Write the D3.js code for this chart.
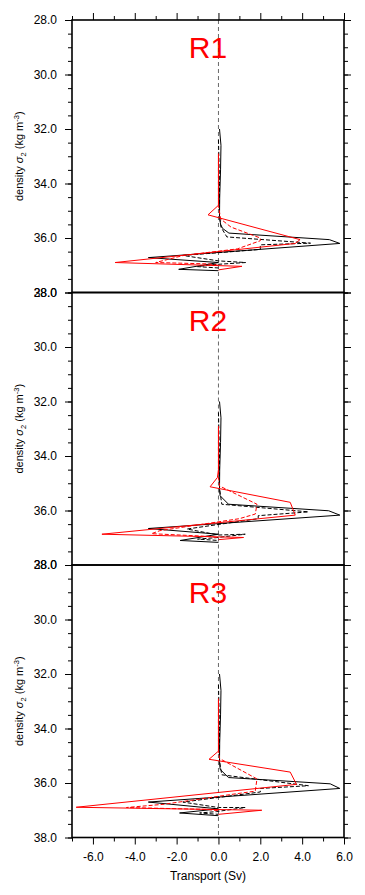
<!DOCTYPE html>
<meta charset="utf-8">
<head>
<style>
  body { margin: 0; background: #fff; }
  svg text { font-family: "Liberation Sans", Arial, sans-serif; }
</style>
</head>
<body>
<script src="https://d3js.org/d3.v7.min.js"></script>
<script>
// panel names
var panels = ["R1", "R2", "R3"];

// tick values
var xMajor = [-6, -4, -2, 0, 2, 4, 6];
var xMinor = [-7, -5, -3, -1, 1, 3, 5];
var yMajor = [28, 30, 32, 34, 36, 38];
var yMinor = d3.range(28, 38.01, 0.5);

// series: [transport (Sv), sigma2]
var r1BlackSolid = [[0.05,32.0],[0.12,32.6],[0.1,33.5],[0.06,34.5],[0.05,35.2],[0.1,35.5],[0.2,35.65],[0.5,35.82],[5.3,36.06],[5.8,36.2],[-3.35,36.72],[0.0,36.9],[-1.9,37.15],[0.0,37.2]];
var r1BlackDash  = [[0.0,32.4],[0.05,34.0],[0.05,35.2],[0.12,35.6],[0.4,35.96],[4.4,36.19],[2.0,36.25],[2.0,36.42],[-1.7,36.64],[0.0,36.84],[1.3,36.9],[-0.3,36.98],[-1.0,37.05],[0.0,37.1]];
var r1RedSolid   = [[0.0,32.9],[0.0,34.5],[0.0,34.8],[-0.5,35.15],[3.9,36.06],[3.67,36.2],[-4.94,36.9],[1.12,37.04],[0.0,37.17]];
var r1RedDash    = [[0.0,33.0],[0.0,34.8],[0.1,35.3],[0.6,35.6],[2.0,36.0],[2.0,36.1],[0.9,36.4],[-1.67,36.64],[-3.0,36.9],[-0.5,36.95],[0.0,37.0]];

var r2BlackSolid = [[0.05,32.0],[0.12,32.6],[0.1,33.5],[0.06,34.5],[0.05,35.2],[0.08,35.46],[0.48,35.77],[5.27,36.01],[5.8,36.17],[-3.35,36.66],[0.0,36.87],[-1.83,37.1],[0.0,37.17]];
var r2BlackDash  = [[0.0,32.4],[0.05,34.0],[0.05,35.2],[0.16,35.77],[4.3,36.05],[1.9,36.19],[1.9,36.3],[-1.5,36.68],[0.0,36.9],[1.28,36.87],[-0.15,37.0],[-1.0,37.05],[0.0,37.1]];
var r2RedSolid   = [[0.0,32.9],[0.0,34.5],[-0.05,34.79],[-0.4,35.13],[3.43,35.7],[3.67,36.17],[-5.57,36.87],[1.2,36.99],[0.0,37.07]];
var r2RedDash    = [[0.0,33.0],[0.0,34.8],[0.05,35.1],[1.84,35.77],[1.76,36.13],[1.0,36.3],[-2.8,36.74],[-3.2,36.85],[-0.5,36.95],[0.0,37.0]];

var r3BlackSolid = [[0.05,32.0],[0.12,32.6],[0.1,33.5],[0.06,34.5],[0.05,35.2],[0.08,35.5],[0.48,35.8],[5.34,36.03],[5.8,36.2],[-3.35,36.7],[0.0,36.95],[-1.86,37.1],[0.0,37.2]];
var r3BlackDash  = [[0.0,32.4],[0.05,34.0],[0.05,35.2],[0.16,35.7],[4.3,36.1],[2.0,36.2],[2.0,36.33],[-1.7,36.7],[0.0,36.9],[1.28,36.9],[-0.1,37.05],[-0.9,37.1],[0.0,37.15]];
var r3RedSolid   = [[0.0,32.9],[0.0,34.5],[0.0,34.83],[-0.45,35.13],[3.43,35.6],[3.73,36.05],[-6.8,36.89],[2.07,37.0],[0.0,37.15]];
var r3RedDash    = [[0.0,33.0],[0.0,34.8],[0.05,35.1],[1.84,35.85],[1.76,36.3],[0.8,36.4],[-2.6,36.78],[-4.4,36.9],[-0.5,36.97],[0.0,37.02]];

var seriesByPanel = [
  [r1BlackSolid, r1BlackDash, r1RedSolid, r1RedDash],
  [r2BlackSolid, r2BlackDash, r2RedSolid, r2RedDash],
  [r3BlackSolid, r3BlackDash, r3RedSolid, r3RedDash]
];
var styles = [
  {color: "#000", dash: null},
  {color: "#000", dash: "4,2"},
  {color: "#ff0000", dash: null},
  {color: "#ff0000", dash: "4,2"}
];

var W = 365, H = 895;
var left = 72, right = 344, ph = 272.5;
var tops = [20, 292.5, 565];

var fmt = function(d) { return d3.format(".1f")(d).replace("\u2212", "-"); };

var svg = d3.select("body").append("svg")
    .attr("width", W).attr("height", H);

var x = d3.scaleLinear().domain([-7, 6]).range([left, right]);

panels.forEach(function(name, i) {
  var top = tops[i];
  var y = d3.scaleLinear().domain([28, 38]).range([top, top + ph]);
  var g = svg.append("g");

  // zero line
  g.append("line")
    .attr("x1", x(0)).attr("x2", x(0))
    .attr("y1", top).attr("y2", top + ph)
    .attr("stroke", "#444").attr("stroke-width", 0.8)
    .attr("stroke-dasharray", "4,3");

  // series
  var line = d3.line().x(function(d){ return x(d[0]); }).y(function(d){ return y(d[1]); });
  seriesByPanel[i].forEach(function(s, k) {
    g.append("path").datum(s)
      .attr("d", line)
      .attr("fill", "none")
      .attr("stroke", styles[k].color)
      .attr("stroke-width", 1)
      .attr("stroke-dasharray", styles[k].dash);
  });

  // title
  g.append("text")
    .attr("x", (left + right) / 2).attr("y", top + 38)
    .attr("text-anchor", "middle")
    .attr("font-size", 30)
    .attr("fill", "#ff0000")
    .text(name);

  // left axis
  var yl = g.append("g").attr("transform", "translate(" + left + ",0)");
  yl.call(d3.axisLeft(y).tickValues(yMinor).tickSize(4).tickFormat("").tickSizeOuter(0));
  yl.append("g").call(d3.axisLeft(y).tickValues(yMajor).tickSize(7).tickPadding(8)
      .tickFormat(fmt).tickSizeOuter(0));
  // right axis
  var yr = g.append("g").attr("transform", "translate(" + right + ",0)");
  yr.call(d3.axisRight(y).tickValues(yMinor).tickSize(4).tickFormat("").tickSizeOuter(0));
  yr.append("g").call(d3.axisRight(y).tickValues(yMajor).tickSize(7).tickFormat("").tickSizeOuter(0));

  if (i === 0) {
    var xt = g.append("g").attr("transform", "translate(0," + top + ")");
    xt.call(d3.axisTop(x).tickValues(xMinor).tickSize(4).tickFormat("").tickSizeOuter(0));
    xt.append("g").call(d3.axisTop(x).tickValues(xMajor).tickSize(7).tickFormat("").tickSizeOuter(0));
  }
  if (i === 2) {
    var xb = g.append("g").attr("transform", "translate(0," + (top + ph) + ")");
    xb.call(d3.axisBottom(x).tickValues(xMinor).tickSize(4).tickFormat("").tickSizeOuter(0));
    xb.append("g").call(d3.axisBottom(x).tickValues(xMajor).tickSize(7).tickPadding(8)
        .tickFormat(fmt).tickSizeOuter(0));
  }

  // frame
  g.append("rect")
    .attr("x", left).attr("y", top)
    .attr("width", right - left).attr("height", ph)
    .attr("fill", "none").attr("stroke", "#000").attr("stroke-width", 1.6);

  // y label
  var lab = g.append("text")
    .attr("transform", "translate(23," + (top + ph / 2) + ") rotate(-90)")
    .attr("text-anchor", "middle")
    .attr("font-size", 11);
  lab.append("tspan").text("density ");
  lab.append("tspan").attr("font-style", "italic").text("\u03c3");
  lab.append("tspan").attr("font-size", 7.5).attr("dy", 2.5).text("2");
  lab.append("tspan").attr("dy", -2.5).text(" (kg m");
  lab.append("tspan").attr("font-size", 7.5).attr("dy", -4).text("-3");
  lab.append("tspan").attr("dy", 4).text(")");
});

svg.selectAll(".domain").remove();
svg.selectAll(".tick line").attr("stroke", "#000").attr("stroke-width", 1);
svg.selectAll(".tick text").attr("font-size", 12).attr("fill", "#000")
   .attr("font-family", "'Liberation Sans', Arial, sans-serif");

svg.append("text")
  .attr("x", (left + right) / 2).attr("y", 880)
  .attr("text-anchor", "middle")
  .attr("font-size", 12)
  .text("Transport (Sv)");
</script>
</body>
